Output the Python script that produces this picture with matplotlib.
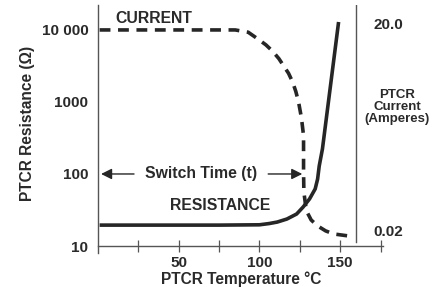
"""PTCR resistance / current vs temperature."""
import matplotlib
matplotlib.use("Agg")
import matplotlib.pyplot as plt

plt.rcParams["font.family"] = ["Liberation Sans", "DejaVu Sans"]
plt.rcParams["font.weight"] = "bold"

# resistance curve (ohms) vs temperature (degC)
res_temp = [1, 40, 75, 100, 106, 111, 117, 123, 127, 131, 134.5, 136, 137, 139, 149]
res_ohm = [19.5, 19.5, 19.5, 19.7, 20.5, 21.5, 23.7, 27.8, 34.7, 45, 62, 85, 129, 223, 12900]

# current curve, drawn on the resistance scale (10 000 <-> 20.0 A)
cur_temp = [1, 50, 85, 93, 99, 104, 108, 112, 115, 118, 120.5, 122.5, 124.2, 126, 127.3,
            127.3, 127.5, 129, 132, 136, 141, 146, 155]
cur_val = [10000, 10000, 10000, 9300, 7500, 6200, 5100, 4000, 3160, 2500, 1900, 1400, 1000,
           600, 340, 107, 56, 31, 23, 19, 16.2, 14.7, 13.8]

y_ticks = [10, 100, 1000, 10000]
y_labels = ["10", "100", "1000", "10 000"]
x_ticks = [25, 50, 75, 100, 125, 150, 175]
x_labels = ["", "50", "", "100", "", "150", ""]

ink = "#262626"
axis_col = "#555555"
txt = "#2a2a2a"

fig = plt.figure(figsize=(4.40, 2.87), dpi=100)
ax = fig.add_axes([98 / 440, 1 - 246 / 287, 285 / 440, 241 / 287])
ax.set_yscale("log")
ax.set_xlim(0, 176.5)
ax.set_ylim(10, 22200)

ax.plot(res_temp, res_ohm, color=ink, lw=2.6, solid_capstyle="butt")
ax.plot(cur_temp, cur_val, color=ink, lw=2.6, dashes=(3.0, 2.1), dash_capstyle="butt")

for s in ["top", "right"]:
    ax.spines[s].set_visible(False)
ax.spines["left"].set_bounds(8.0, 22200)
ax.spines["left"].set_color(axis_col)
ax.spines["bottom"].set_color(axis_col)
ax.spines["left"].set_linewidth(1.0)
ax.spines["bottom"].set_linewidth(1.0)

ax.set_yticks(y_ticks)
ax.set_yticklabels(y_labels)
ax.yaxis.set_minor_locator(matplotlib.ticker.NullLocator())
ax.tick_params(axis="y", length=0, pad=7, labelsize=11, labelcolor=txt)
ax.set_xticks(x_ticks)
ax.set_xticklabels(x_labels)
ax.tick_params(axis="x", direction="inout", length=8.6, width=0.9, color=axis_col,
               pad=3, labelsize=11, labelcolor=txt)
for lab in ax.get_xticklabels() + ax.get_yticklabels():
    lab.set_fontweight("bold")

# right-hand current scale line
ax.axvline(160, ymin=0.017, ymax=1, color=axis_col, lw=1.0)

ax.text(11, 14200, "CURRENT", fontsize=11.3, fontweight="bold", color=txt,
        ha="left", va="center")
ax.text(75.6, 36, "RESISTANCE", fontsize=11.3, fontweight="bold", color=txt,
        ha="center", va="center")
ax.text(64, 100, "Switch Time (t)", fontsize=11.3, fontweight="bold", color=txt,
        ha="center", va="center")
ax.annotate("", xy=(1.9, 100), xytext=(22.3, 100),
            arrowprops=dict(arrowstyle="-|>", color=ink, lw=1.0, mutation_scale=16,
                            shrinkA=0, shrinkB=0))
ax.annotate("", xy=(126.5, 100), xytext=(105.4, 100),
            arrowprops=dict(arrowstyle="-|>", color=ink, lw=1.0, mutation_scale=16,
                            shrinkA=0, shrinkB=0))

ax.text(170.5, 11700, "20.0", fontsize=11, fontweight="bold", color=txt,
        ha="left", va="center")
ax.text(170.5, 15.6, "0.02", fontsize=11, fontweight="bold", color=txt,
        ha="left", va="center")
ax.text(185.4, 850, "PTCR\nCurrent\n(Amperes)", fontsize=9.5, fontweight="bold",
        color=txt, ha="center", va="center", linespacing=0.95)

fig.text(241.5 / 440, 1 - 279.5 / 287, "PTCR Temperature °C", fontsize=11.2,
         fontweight="bold", color=txt, ha="center", va="center")
fig.text(28 / 440, 1 - 123 / 287, "PTCR Resistance (Ω)", fontsize=11.2,
         fontweight="bold", color=txt, ha="center", va="center", rotation=90)

fig.savefig("out.png", dpi=100)
